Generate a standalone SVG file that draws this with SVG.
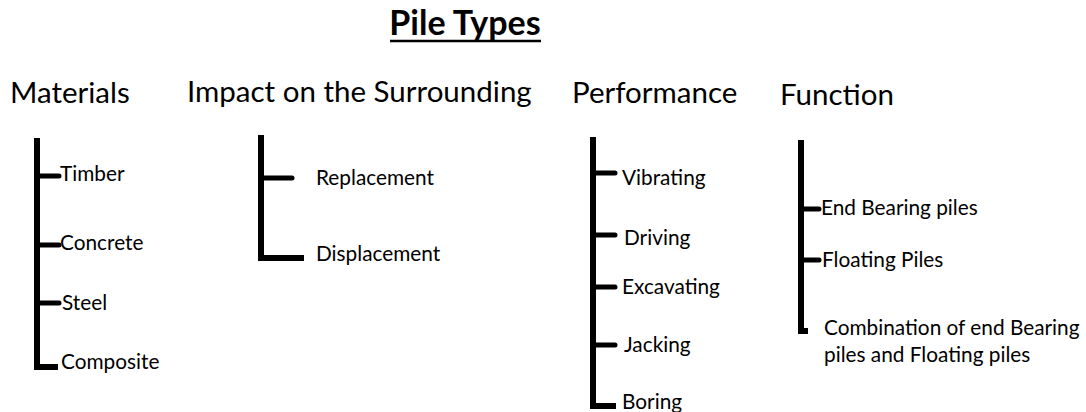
<svg xmlns="http://www.w3.org/2000/svg" width="1086" height="412" viewBox="0 0 1086 412">
  <style>
    text { font-family: "Lato", "Liberation Sans", sans-serif; fill: #000; }
    .title { font-size: 34px; font-weight: bold; }
    .head { font-size: 29.5px; }
    .item { font-size: 20.8px; }
    .stem { stroke: #000; stroke-width: 6; fill: none; stroke-linecap: butt; stroke-linejoin: miter; }
    .twig { stroke: #000; stroke-width: 5; fill: none; stroke-linecap: round; }
  </style>
  <rect width="1086" height="412" fill="#fff"/>

  <!-- title -->
  <g id="title">
    <text class="title" x="465" y="35" text-anchor="middle">Pile Types</text>
    <line x1="390" y1="41" x2="541" y2="41" stroke="#000" stroke-width="2.5"/>
  </g>

  <!-- category headings -->
  <g id="materials"><text class="head" x="10" y="103">Materials</text></g>
  <g id="impact"><text class="head" x="187" y="102">Impact on the Surrounding</text></g>
  <g id="performance"><text class="head" x="572" y="103">Performance</text></g>
  <g id="function"><text class="head" x="780" y="105">Function</text></g>

  <!-- tree connectors: a stem per category, one twig per entry -->
  <g id="connectors">
    <!-- materials -->
    <path class="stem" d="M37 138 V367 H58"/>
    <path class="twig" d="M37 176 H59 M37 245 H59 M37 303 H59"/>
    <!-- impact -->
    <path class="stem" d="M261 135 V258 H304"/>
    <path class="twig" d="M261 178 H292"/>
    <!-- performance -->
    <path class="stem" d="M593 137 V406 H616"/>
    <path class="twig" d="M593 173 H615 M593 235 H615 M593 287 H615 M593 345 H615"/>
    <!-- function -->
    <path class="stem" d="M801 140 V331 H808"/>
    <path class="twig" d="M801 209 H819 M801 260 H819"/>
  </g>

  <!-- leaves -->
  <g id="timber"><text class="item" x="60" y="181">Timber</text></g>
  <g id="concrete"><text class="item" x="60" y="250">Concrete</text></g>
  <g id="steel"><text class="item" x="62" y="310">Steel</text></g>
  <g id="composite"><text class="item" x="61" y="369">Composite</text></g>

  <g id="replacement"><text class="item" x="316" y="185">Replacement</text></g>
  <g id="displacement"><text class="item" x="316" y="261">Displacement</text></g>

  <g id="vibrating"><text class="item" x="622" y="185">Vibrating</text></g>
  <g id="driving"><text class="item" x="624" y="245">Driving</text></g>
  <g id="excavating"><text class="item" x="622" y="294">Excavating</text></g>
  <g id="jacking"><text class="item" x="624" y="352">Jacking</text></g>
  <g id="boring"><text class="item" x="622" y="409">Boring</text></g>

  <g id="end-bearing"><text class="item" x="821" y="215">End Bearing piles</text></g>
  <g id="floating"><text class="item" x="822" y="267">Floating Piles</text></g>
  <g id="combination">
    <text class="item" x="824" y="335">Combination of end Bearing</text>
    <text class="item" x="824" y="362">piles and Floating piles</text>
  </g>
</svg>
